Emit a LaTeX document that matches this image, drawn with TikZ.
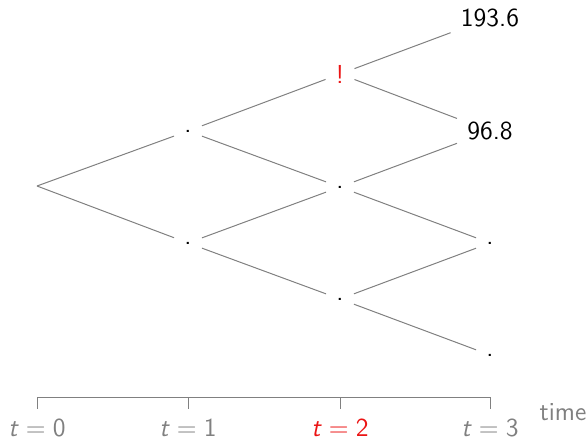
\documentclass[tikz,border=0pt]{standalone}
\usepackage{tikz}
\definecolor{lgray}{RGB}{128,128,128}
\definecolor{lred}{RGB}{235,20,20}
\begin{document}
\begin{tikzpicture}[x=0.5pt,y=-0.5pt,
  every node/.style={font=\sffamily\fontsize{13}{15}\selectfont},
  treenode/.style={inner sep=5pt},
  dotnode/.style={inner sep=5pt, text height=1.4pt, text depth=0pt},
  branch/.style={draw=lgray, line width=0.5pt},
  axislabel/.style={text=lgray, inner sep=0pt}]
\useasboundingbox (0,0) rectangle (588,439);
% tree nodes
\coordinate (r) at (37,186);
\node[dotnode] (a1) at (188,131) {.};
\node[dotnode] (b1) at (188,243) {.};
\node[treenode, text=lred] (a2) at (340,74) {!};
\node[dotnode] (b2) at (340,187) {.};
\node[dotnode] (c2) at (340,299) {.};
\node[treenode] (a3) at (490,18) {193.6};
\node[treenode] (b3) at (490,131) {96.8};
\node[dotnode] (c3) at (490,243) {.};
\node[dotnode] (d3) at (490,355) {.};
% branches
\draw[branch] (r) -- (a1);
\draw[branch] (r) -- (b1);
\draw[branch] (a1) -- (a2);
\draw[branch] (a1) -- (b2);
\draw[branch] (b1) -- (b2);
\draw[branch] (b1) -- (c2);
\draw[branch] (a2) -- (a3);
\draw[branch] (a2) -- (b3);
\draw[branch] (b2) -- (b3);
\draw[branch] (b2) -- (c3);
\draw[branch] (c2) -- (c3);
\draw[branch] (c2) -- (d3);
% time axis
\coordinate (k0) at (37,397);
\coordinate (k1) at (188,397);
\coordinate (k2) at (340,397);
\coordinate (k3) at (490,397);
\coordinate (e0) at (37,409);
\coordinate (e1) at (188,409);
\coordinate (e2) at (340,409);
\coordinate (e3) at (490,409);
\draw[branch] (k0) -- (k3);
\draw[branch] (k0) -- (e0);
\draw[branch] (k1) -- (e1);
\draw[branch] (k2) -- (e2);
\draw[branch] (k3) -- (e3);
\node[axislabel] (l0) at (37,428) {\textit{t}\hspace{0.278em}=\hspace{0.278em}0};
\node[axislabel] (l1) at (188,428) {\textit{t}\hspace{0.278em}=\hspace{0.278em}1};
\node[axislabel, text=lred] (l2) at (340,428) {\textit{t}\hspace{0.278em}=\hspace{0.278em}2};
\node[axislabel] (l3) at (490,428) {\textit{t}\hspace{0.278em}=\hspace{0.278em}3};
\node[axislabel] (tm) at (563,412) {time};
\end{tikzpicture}
\end{document}
